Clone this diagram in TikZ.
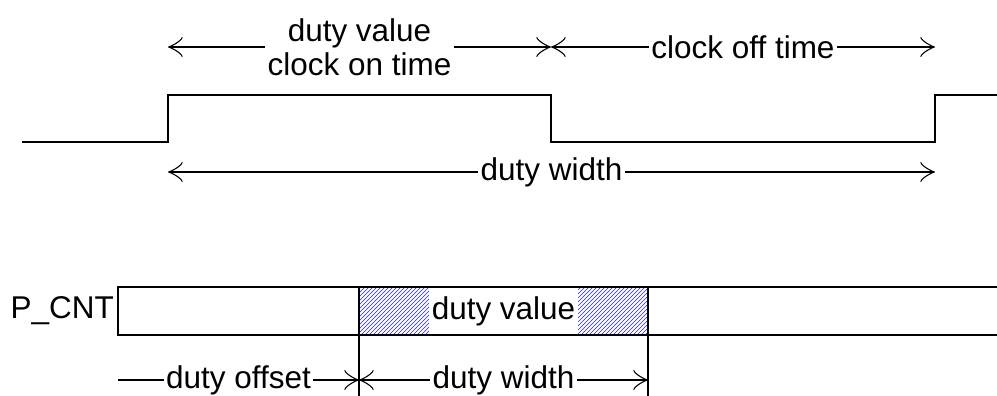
\documentclass[tikz,border=0pt]{standalone}
\usepackage{fontspec}
\setmainfont{Liberation Sans}
\usetikzlibrary{arrows.meta,patterns}

\begin{document}
\begin{tikzpicture}[x=0.75pt, y=-0.75pt, line width=1.2pt, >={Classical TikZ Rightarrow[length=11pt,width=15pt]}, every node/.style={font=\fontsize{23.6}{25.5}\selectfont, inner sep=1pt}, lbl/.style={fill=white, inner xsep=2pt}]
\useasboundingbox (0,0) rectangle (997,396);
% clock
\coordinate (start) at (22,142);
\coordinate (rise1) at (168,95);
\coordinate (fall) at (551,95);
\coordinate (rise2) at (935,95);
\coordinate (stop) at (997,95);
\draw (start) -| (rise1) -- (fall) |- (rise2 |- start) -- (rise2) -- (stop);
\coordinate (on1) at (168,47);
\coordinate (on2) at (551,47);
\coordinate (off2) at (935,47);
\coordinate (w1) at (168,172);
\coordinate (w2) at (935,172);
\draw[<->, line width=1pt] (on1) -- node[lbl, align=center] (onlbl) {duty value\\clock on time} (on2);
\draw[<->, line width=1pt] (on2) -- node[lbl] (offlbl) {clock off time} (off2);
\draw[<->, line width=1pt] (w1) -- node[lbl] (wlbl) {duty width} (w2);
% P_CNT
\node[anchor=east] (pcnt) at (116,311) {P\_CNT};
\fill[pattern=north east lines, pattern color=blue!85] (359,287) rectangle (648,335);
\node[fill=white, inner sep=0pt, inner xsep=2pt, minimum height=34pt] (val) at (503.5,311) {duty value};
\draw (997,287) -| (118,335) -- (997,335);
\coordinate (c0) at (118,380);
\coordinate (c1) at (359,380);
\coordinate (c2) at (648,380);
\draw (c1 |- 0,287) -- (c1 |- 0,396);
\draw (c2 |- 0,287) -- (c2 |- 0,396);
\draw[->, line width=1pt] (c0) -- node[lbl] (offslbl) {duty offset} (c1);
\draw[<->, line width=1pt] (c1) -- node[lbl] (dwlbl) {duty width} (c2);
\end{tikzpicture}
\end{document}
